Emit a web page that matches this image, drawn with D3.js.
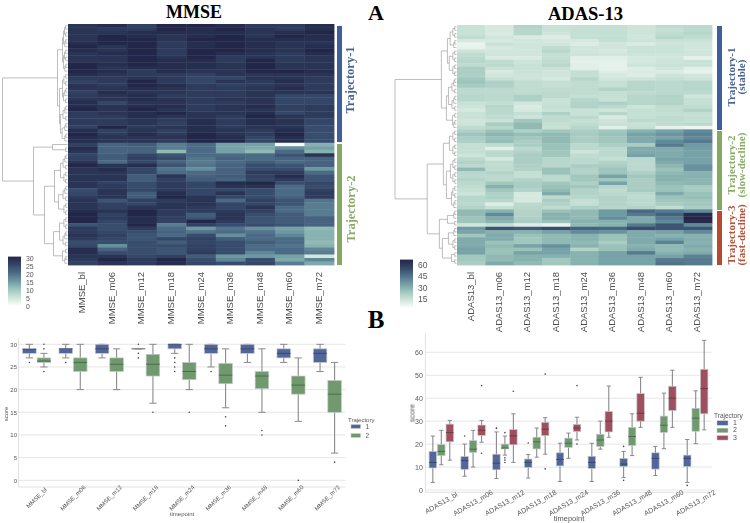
<!DOCTYPE html>
<html><head><meta charset="utf-8">
<script src="https://cdn.jsdelivr.net/npm/d3@7"></script>
<style>html,body{margin:0;padding:0;background:#fff}svg{display:block}</style>
</head><body><svg id="c" width="750" height="523"></svg>
<script>
const timepoints=["bl","m06","m12","m18","m24","m36","m48","m60","m72"];
const mmseLabels=timepoints.map(t=>"MMSE_"+t);
const adasLabels=timepoints.map(t=>"ADAS13_"+t);
const mmseColorTicks=[0,5,10,15,20,25,30];
const adasColorTicks=[15,30,45,60];
const mmseBoxTicks=[0,5,10,15,20,25,30];
const adasBoxTicks=[0,10,20,30,40,50,60];

const mmseTraj1=[
[28,29,26,30,30,29,27,27,29],[28,27,27,30,29,30,28,27,29],[28,28,29,29,29,29,28,29,30],[28,30,29,28,29,30,28,30,29],
[28,30,30,28,30,30,29,29,29],[29,30,30,27,29,30,29,28,28],[30,28,30,27,29,30,29,28,29],[29,28,30,27,30,30,29,28,30],
[28,29,30,27,30,29,28,27,29],[28,28,30,28,30,27,28,27,28],[28,28,30,29,29,27,30,27,28],[30,29,30,29,29,28,30,28,28],
[30,28,29,29,29,28,30,28,28],[30,29,27,29,28,28,30,30,29],[29,28,27,27,26,28,28,28,28],[27,27,28,27,25,25,28,28,27],
[26,27,30,27,25,28,27,29,27],[28,27,30,29,27,26,27,28,27],[28,28,29,28,27,27,28,29,27],[26,29,28,28,27,27,28,28,28],
[27,28,29,27,27,27,28,25,25],[28,28,29,28,27,28,28,25,25],[29,25,28,28,27,27,28,25,25],[29,28,29,29,27,28,29,26,27],
[30,28,30,28,27,28,28,26,27],[27,28,29,30,28,28,29,25,27],[27,27,29,28,28,27,30,28,27],[27,27,28,27,29,27,29,28,25],
[27,27,28,26,29,27,29,28,25],[26,30,27,28,29,27,28,28,24],[29,26,28,26,29,28,27,29,24],[30,27,29,27,30,28,27,30,24],
[29,28,28,28,30,29,25,29,24],[29,28,28,27,30,30,25,29,24]];
const mmseTraj2=[
[26,21,22,18,20,14,14,0,12],[29,21,21,18,20,14,13,16,14],[28,21,21,11,20,14,11,20,12],[25,22,25,23,20,20,20,23,28],
[26,22,26,24,19,21,20,21,21],[28,20,25,21,18,20,22,20,21],[30,28,29,23,19,21,24,23,21],[28,29,25,19,16,21,24,24,15],
[28,28,25,20,20,21,27,27,20],[28,28,22,28,21,22,26,29,23],[28,28,22,26,22,21,25,27,23],[28,26,24,27,25,29,30,24,25],
[28,27,24,27,25,28,28,20,24],[24,28,25,27,25,25,24,20,26],[25,28,22,29,25,28,24,20,27],[27,28,22,30,28,25,24,21,27],
[28,23,26,27,28,20,26,23,19],[28,26,25,28,28,25,25,23,18],[28,26,28,28,27,25,28,20,18],[29,28,30,27,27,27,26,20,18],
[30,26,30,27,22,28,24,22,18],[30,27,29,26,23,28,23,22,21],[30,25,29,26,30,27,23,22,21],[23,24,30,18,26,24,24,23,21],
[27,24,27,20,15,19,16,14,11],[27,25,24,21,19,20,19,15,12],[28,26,23,20,24,16,20,17,12],[27,25,23,25,26,22,20,20,12],
[24,24,24,22,25,24,22,20,11],[25,16,24,24,26,24,20,19,12],[29,21,24,23,26,24,20,20,17],[29,24,24,23,27,24,17,20,18],
[28,28,25,26,22,15,15,14,4],[27,30,27,30,24,17,24,13,17],[26,28,27,29,25,24,25,18,13]];
const adasTraj1=[
[11,8,16,11,12,12,10,13,14],[11,8,15,11,12,12,10,12,14],[11,7,15,9,12,12,10,13,15],[13,9,7,6,12,12,9,15,13],
[8,8,9,8,8,12,10,11,11],[3,11,9,9,6,9,7,10,9],[4,8,9,13,9,9,11,11,9],[10,9,9,15,9,8,11,11,9],
[13,9,9,12,10,9,10,10,9],[14,7,7,12,5,5,8,9,4],[15,13,10,13,4,4,8,10,11],[13,14,11,15,5,4,10,11,11],
[18,11,11,11,5,4,6,9,5],[18,8,11,9,12,6,7,7,4],[17,9,10,9,12,8,6,10,9],[20,12,10,8,15,9,10,12,10],
[21,17,13,12,13,12,15,14,15],[19,17,13,12,13,12,15,14,15],[14,14,13,13,13,16,15,14,15],[14,14,13,14,13,12,13,14,14],
[15,14,17,14,12,12,15,16,9],[15,14,17,11,15,11,15,16,12],[11,12,9,11,16,17,15,16,12],[10,15,7,12,16,14,10,13,13],
[8,14,8,11,11,10,12,13,16],[11,14,12,17,11,15,12,12,12],[11,13,10,13,14,7,12,13,12],[9,11,20,13,12,10,14,13,12],
[10,18,24,12,13,11,11,13,14],[13,15,24,11,15,5,12,4,2]];
const adasTraj2=[
[17,22,17,20,18,20,26,30,36],[21,25,23,24,19,22,30,33,38],[18,22,20,24,18,20,28,30,36],[17,23,18,24,18,20,28,36,40],
[12,13,18,22,14,18,18,40,32],[12,5,14,22,14,14,28,28,31],[12,14,16,20,10,14,28,28,30],[10,14,18,20,13,14,30,28,30],
[14,8,18,15,14,12,14,30,30],[16,13,18,15,14,16,14,28,30],[14,13,17,15,18,18,14,25,34],[24,13,16,22,16,21,14,22,34],
[15,16,12,22,16,21,17,24,26],[14,14,12,14,20,30,20,26,26],[16,14,16,14,20,20,18,26,25],[14,20,18,20,17,30,18,24,25],
[13,26,18,22,20,15,18,22,19],[12,20,16,24,16,13,19,22,19],[10,17,8,28,16,14,14,28,22],[15,17,8,14,15,16,13,22,23],
[15,15,8,18,12,16,14,20,20],[14,6,14,16,12,16,14,18,20],[16,12,15,13,17,15,16,13,18]];
const adasTraj3=[
[24,26,16,22,24,32,44,40,36],[24,36,16,26,24,32,40,46,64],[21,28,17,26,24,35,28,40,66],[21,25,18,22,26,26,28,36,64],
[9,12,6,3,24,26,40,50,36],[32,50,48,52,46,44,52,50,50],[30,26,26,30,36,34,28,30,36],[20,28,22,24,26,22,28,26,26],
[28,28,20,24,26,22,28,30,27],[28,22,20,24,24,18,28,38,26],[28,24,30,34,26,22,26,24,28],[30,22,22,30,16,22,28,24,26],
[30,22,30,30,26,30,40,26,28],[20,24,26,26,26,30,30,30,38],[20,24,26,20,26,30,30,40,40],[18,28,24,20,26,30,30,42,40]];

// dendrogram merges: [height, childA, childB]; a bare number is a small group of leaves
const mmseTree=[65,[10,[5,7,7],[8,[5,4,5],[7,5,6]]],[34,[15,1,2],[23,[13,[7,5,4],[9,5,4]],[14,[8,4,5],[5,2,3]]]]];
const adasTree=[61,[15,[9,7,8],[10,[8,5,5],[4,2,3]]],[29,[13,[7,4,4],[10,[6,4,4],[5,4,3]]],[17,[9,3,2],[14,[8,3,4],[5,2,2]]]]];

// box rows: [low whisker, q1, median, q3, high whisker, [outliers]]
const mmseBoxT1=[[27,28,28.9,29,30,[26]],[27,28,29,29,30,[26]],[27,28,29,30,30,[]],[29,29,29,29,29,[30,28,27]],[28,29,30,30,30,[27,26,25,24]],[25,28,29,30,30,[24]],[26,28,29,30,30,[]],[26,27,28,29,30,[]],[24,26,28,29,30,[]]];
const mmseBoxT2=[[25,26,26.3,27,28,[30,29,24]],[20,24,26,27,30,[]],[20,24,25.6,27,29,[]],[17,23,25.6,27.8,30,[15]],[20,22.2,24,26,30,[15]],[16,21.3,23.2,25.8,29,[14,12]],[15,20.2,23,24,29,[11,10]],[13,19,21,23,27,[0]],[6,15,19,22,26,[4]]];
const adasBoxT1=[[3.3,9.6,12,16.8,23.5,[]],[6,9,12.8,14.6,20,[23.5]],[5,8.8,11.7,15.6,25.3,[27,26.8]],[5.2,9.8,12,13.5,15.5,[20.5]],[3.7,10.5,13.3,16.2,20.4,[]],[3.7,9.4,12,14.7,20.4,[]],[5.4,10.2,11.3,13.8,16.8,[19,4.2]],[6.3,9.1,13.8,16.2,19,[]],[3.3,10.2,13.8,15.2,22,[2]]];
const adasBoxT2=[[11,15,16.8,19.8,26,[]],[10,16.4,17.8,21.5,26,[]],[15.2,17.9,18.3,20,23.5,[25,14,13,12]],[14.3,17.9,21,23,27,[]],[13.8,18.6,20.4,22.6,24.8,[]],[17.8,19,21.8,24.3,30,[]],[15,19.4,23.3,27.3,33.2,[]],[18,25.1,28.2,32.2,42.2,[]],[20.2,25.6,31.3,35.6,43.2,[]]];
const adasBoxT3=[[13,21,25,28.7,30.3,[]],[20.8,23.8,26,28.3,30.3,[45.5,16]],[12,19.7,23.6,26.3,33.2,[43]],[15.6,23.7,26.5,29.5,31.5,[50.5,9.2]],[21.8,25.5,27,28.6,31.7,[45.5,20]],[23,25.3,30,34.2,45.3,[]],[27.3,30,33.4,42,49.1,[]],[27.3,34.6,40,45.2,52.2,[]],[26.2,33.2,44.2,52.6,65.2,[]]];

const rampStops=["#f5fbf8","#c9e2d7","#9bc3ba","#6c98a2","#4b6b85","#344768","#232849"];
const boxColors=["#52669a","#6f9a6e","#a0505e"];
const medianColors=["#39486f","#4c6c4c","#723842"];
const serif="'Liberation Serif',serif", sans="'Liberation Sans',Arial,sans-serif";

const svg=d3.select("#c");
const defs=svg.append("defs");
defs.append("filter").attr("id","soft").append("feGaussianBlur").attr("stdDeviation",0.45);
defs.append("filter").attr("id","heat").append("feGaussianBlur").attr("stdDeviation","0.35 0.7");
defs.append("filter").attr("id","tiny").append("feGaussianBlur").attr("stdDeviation",0.3);

function ramp(max){return d3.scaleLinear().domain(d3.range(7).map(i=>i*max/6)).range(rampStops).clamp(true);}

function heatmap(o){
  const rows=o.rows;
  const x=d3.scaleBand().domain(o.labels).range([o.x0,o.x1]);
  const y=d3.scaleBand().domain(d3.range(rows.length)).range([o.y0,o.y1]);
  const g=svg.append("g").attr("filter","url(#heat)");
  rows.forEach((r,i)=>g.selectAll(null).data(r).join("rect")
    .attr("x",(d,j)=>x(o.labels[j])).attr("y",y(i)).attr("width",x.bandwidth()+0.4).attr("height",y.bandwidth()+0.4)
    .attr("fill",d=>o.color(d)));
  // labels
  const a=svg.append("g").attr("filter","url(#tiny)").attr("transform",`translate(0,${o.y1+7})`).call(d3.axisBottom(x).tickSize(0).tickPadding(0));
  a.select(".domain").remove();
  a.selectAll("text").attr("text-anchor","end").attr("dy",0).attr("y",0)
    .attr("transform","rotate(-90)").attr("dx",0).attr("dominant-baseline","middle")
    .style("font-family",sans).style("font-size",o.labelSize+"px").attr("fill","#4d4d4d");
  // dendrogram
  const h=d3.scaleLinear().domain([0,o.tree[0]]).range([o.x0-0.5,o.rootX]);
  let leaf=0; const segs=[];
  function walk(n,cap){
    if(typeof n==="number"){
      if(n===1){const yy=y(leaf)+y.bandwidth()/2;leaf++;return{y:yy,h:0};}
      const na=Math.ceil(n/2),ht=Math.min(cap-1,n*0.9);
      return merge(ht,walk(na,ht),walk(n-na,ht));
    }
    return merge(n[0],walk(n[1],n[0]),walk(n[2],n[0]));
  }
  function merge(ht,a,b){
    segs.push([h(a.h),a.y,h(ht),a.y],[h(b.h),b.y,h(ht),b.y],[h(ht),a.y,h(ht),b.y]);
    return{y:(a.y+b.y)/2,h:ht};
  }
  walk(o.tree,o.tree[0]+1);
  svg.append("g").selectAll("line").data(segs).join("line")
    .attr("x1",d=>d[0]).attr("y1",d=>d[1]).attr("x2",d=>d[2]).attr("y2",d=>d[3])
    .attr("stroke","#a2a2a2").attr("stroke-width",0.7);
  // colour bar
  const yc=d3.scaleLinear().domain(o.barDomain).range([o.barY1,o.barY0]);
  const vals=d3.range(o.barDomain[0],o.barDomain[1],(o.barDomain[1]-o.barDomain[0])/48);
  svg.append("g").attr("filter","url(#soft)").selectAll("rect").data(vals).join("rect")
    .attr("x",o.barX).attr("width",13).attr("y",d=>yc(d)-1.4).attr("height",1.6).attr("fill",d=>o.color(d));
  const ty=d3.scaleLinear().domain(o.tickDomain).range(o.tickRange);
  const t=svg.append("g").attr("filter","url(#tiny)").attr("transform",`translate(${o.barX+13},0)`).call(d3.axisRight(ty).tickValues(o.barTicks).tickSize(0).tickPadding(o.barPad));
  t.select(".domain").remove();
  t.selectAll("text").style("font-family",sans).style("font-size",o.barFont+"px").attr("fill","#555");
}

heatmap({rows:mmseTraj1.concat(mmseTraj2),labels:mmseLabels,x0:68,x1:334,y0:24,y1:265,color:ramp(30),labelSize:9.5,
  tree:mmseTree,rootX:2.5,barX:8,barY0:257,barY1:305,barDomain:[0,30],tickDomain:[0,30],tickRange:[306.5,258],barTicks:mmseColorTicks,barPad:5,barFont:6.9});
heatmap({rows:adasTraj1.concat(adasTraj2,adasTraj3),labels:adasLabels,x0:457,x1:712,y0:25,y1:265,color:ramp(65),labelSize:9.5,
  tree:adasTree,rootX:395,barX:400,barY0:260,barY1:307,barDomain:[0,65],tickDomain:[15,60],tickRange:[298.7,264.7],barTicks:adasColorTicks,barPad:5,barFont:8.5});

// titles & annotations
function txt(x,y,s,size,fill,opts={}){
  const t=svg.append("text").attr("x",x).attr("y",y).text(s).attr("fill",fill).attr("text-anchor",opts.anchor||"middle")
    .style("font-family",opts.family||serif).style("font-size",size+"px").style("font-weight",opts.weight||"bold");
  if(opts.rot!=null)t.attr("transform",`rotate(${opts.rot},${x},${y})`);
  if(opts.blur)t.attr("filter","url(#tiny)");
  return t;
}
txt(194,18,"MMSE",18,"#000");
txt(585.5,19.5,"ADAS-13",18.5,"#000");
txt(376,20,"A",22,"#000");
txt(376,328,"B",25,"#000");

const blue="#3f5f9a",green="#83a85f",red="#b54a30";
const bars=[[337,26,142,blue],[337,144,265,green],[717,26,130,blue],[717,131,210,green],[717,211,265,red]];
svg.append("g").selectAll("rect").data(bars).join("rect")
  .attr("x",d=>d[0]).attr("y",d=>d[1]).attr("width",5).attr("height",d=>d[2]-d[1]).attr("fill",d=>d[3]);
txt(354,80,"Trajectory-1",12.5,"#4a6491",{rot:-90,blur:1});
txt(355,209,"Trajectory-2",12.5,"#8aab68",{rot:-90,blur:1});
txt(735,77,"Trajectory-1",11,"#4a6491",{rot:-90,blur:1});
txt(745,77,"(stable)",11,"#4a6491",{rot:-90,blur:1});
txt(735,165,"Trajectory-2",11,"#8aab68",{rot:-90,blur:1});
txt(745,165,"(slow-decline)",11,"#8aab68",{rot:-90,blur:1});
txt(735,235,"Trajectory-3",11,"#b5533a",{rot:-90,blur:1});
txt(745,235,"(fast-decline)",11,"#b5533a",{rot:-90,blur:1});

// box plots
function boxplot(o){
  const x=d3.scaleBand().domain(o.labels).range([o.x0,o.x1]);
  const y=d3.scaleLinear().domain(o.yDomain).range(o.yRange);
  const g=svg.append("g").attr("filter","url(#soft)");
  g.append("g").selectAll("line").data(o.ticks).join("line")
    .attr("x1",o.x0).attr("x2",o.x1).attr("y1",d=>y(d)).attr("y2",d=>y(d)).attr("stroke","#e6e6e6").attr("stroke-width",1);
  g.append("path").attr("d",`M${o.x0},${o.yTop}V${o.yBase}H${o.x1}`).attr("fill","none").attr("stroke","#e2e2e2").attr("stroke-width",1);
  const n=o.series.length, w=x.bandwidth()*0.8/n;
  o.series.forEach((s,k)=>{
    const gs=g.append("g");
    s.forEach((d,i)=>{
      const cx=x(o.labels[i])+x.bandwidth()/2+(k-(n-1)/2)*w, bw=w;
      gs.append("line").attr("x1",cx).attr("x2",cx).attr("y1",y(d[0])).attr("y2",y(d[4])).attr("stroke","#8a8a8a").attr("stroke-width",1.1);
      [d[0],d[4]].forEach(v=>gs.append("line").attr("x1",cx-bw*0.25).attr("x2",cx+bw*0.25).attr("y1",y(v)).attr("y2",y(v)).attr("stroke","#8a8a8a").attr("stroke-width",1));
      gs.append("rect").attr("x",cx-bw/2+0.5).attr("width",bw-1).attr("y",y(d[3])).attr("height",Math.max(0.1,y(d[1])-y(d[3])))
        .attr("fill",boxColors[k]).attr("stroke","#c4c8cf").attr("stroke-width",0.7);
      gs.append("line").attr("x1",cx-bw/2+0.5).attr("x2",cx+bw/2-0.5).attr("y1",y(d[2])).attr("y2",y(d[2])).attr("stroke",d[1]===d[3]?"#777":medianColors[k]).attr("stroke-width",1);
      d[5].forEach(v=>gs.append("circle").attr("cx",cx).attr("cy",y(v)).attr("r",0.8).attr("fill","#444"));
    });
  });
  const ya=svg.append("g").attr("filter","url(#tiny)").attr("transform",`translate(${o.x0},0)`).call(d3.axisLeft(y).tickValues(o.ticks).tickSize(0).tickPadding(o.pad));
  ya.select(".domain").remove();
  ya.selectAll("text").style("font-family",sans).style("font-size",o.tickSize+"px").attr("fill","#555");
  const xa=svg.append("g").attr("filter","url(#tiny)").attr("transform",`translate(0,${o.labelY})`).call(d3.axisBottom(x).tickSize(0));
  xa.select(".domain").remove();
  xa.selectAll("text").attr("y",0).attr("dy","0.32em").attr("text-anchor","middle").attr("transform",`rotate(${o.rot})`)
    .style("font-family",sans).style("font-size",o.labelSize+"px").attr("fill","#555");
  txt(o.scoreX,o.scoreY,"score",o.titleSize,"#555",{family:sans,weight:"normal",rot:-90,blur:1});
  txt(o.timeX,o.timeY,"timepoint",o.titleSize,"#555",{family:sans,weight:"normal",blur:1});
  txt(o.legX,o.legY,"Trajectory",o.legSize,"#555",{family:sans,weight:"normal",anchor:"start",blur:1});
  const lg=svg.append("g").attr("filter","url(#soft)");
  o.series.forEach((s,k)=>{
    const yy=o.legY+o.legOff+k*o.legStep;
    lg.append("rect").attr("x",o.swX).attr("y",yy-o.swH/2).attr("width",o.swW).attr("height",o.swH).attr("fill",boxColors[k]).attr("stroke","#c4c8cf").attr("stroke-width",0.5);
    txt(o.swX+o.swW+5,yy+2,String(k+1),o.legSize+0.5,"#555",{family:sans,weight:"normal",anchor:"start",blur:1});
  });
}
boxplot({labels:mmseLabels,series:[mmseBoxT1,mmseBoxT2],x0:18.5,x1:345.5,yDomain:[0,30],yRange:[480.3,344.3],ticks:mmseBoxTicks,yTop:338,yBase:487,
  pad:1.5,tickSize:6,labelY:498,rot:-45,labelSize:6,scoreX:8,scoreY:414,timeX:182,timeY:516,titleSize:6,
  legX:348,legY:422,legSize:6,legOff:4.5,legStep:9,swX:351,swW:9.5,swH:3.8});
boxplot({labels:adasLabels,series:[adasBoxT1,adasBoxT2,adasBoxT3],x0:425.4,x1:711.6,yDomain:[0,60],yRange:[490,352.3],ticks:adasBoxTicks,yTop:333,yBase:492.3,
  pad:2.5,tickSize:7,labelY:503,rot:-30,labelSize:7,scoreX:414.5,scoreY:413,timeX:569,timeY:521,titleSize:7.5,
  legX:714,legY:418,legSize:6.5,legOff:5,legStep:7.4,swX:717,swW:11,swH:4.5});
</script></body></html>
